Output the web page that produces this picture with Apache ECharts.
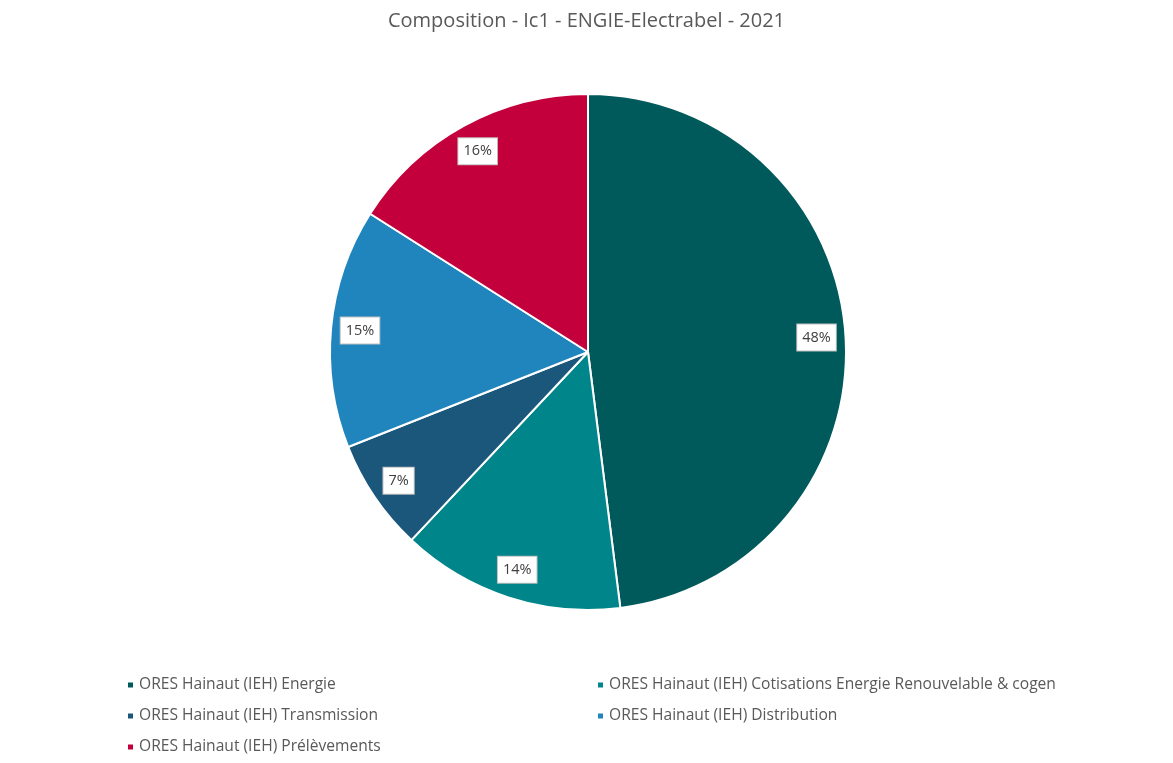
<!DOCTYPE html>
<html>
<head>
<meta charset="utf-8">
<script src="https://cdn.jsdelivr.net/npm/echarts@6/dist/echarts.min.js"></script>
<style>html,body{margin:0;padding:0;background:#fff;}#c{width:1173px;height:763px;}</style>
</head>
<body>
<div id="c"></div>
<script>
const titleText = 'Composition - Ic1 - ENGIE-Electrabel - 2021';
const categories = [
  'ORES Hainaut (IEH) Energie',
  'ORES Hainaut (IEH) Cotisations Energie Renouvelable & cogen',
  'ORES Hainaut (IEH) Transmission',
  'ORES Hainaut (IEH) Distribution',
  'ORES Hainaut (IEH) Prélèvements'
];
const values = [48, 14, 7, 15, 16];
const colors = ['#005A5B', '#00858A', '#1B577B', '#2185BD', '#C3003C'];
const legendLeft = [categories[0], categories[2], categories[4]];
const legendRight = [categories[1], categories[3]];

const chart = echarts.init(document.getElementById('c'));
const font = '"Open Sans", Lato, sans-serif';
const pieData = categories.map((n, i) => ({ name: n, value: values[i] }));
const legendCommon = {
  orient: 'vertical',
  top: 671,
  itemWidth: 7,
  itemHeight: 7,
  itemGap: 13,
  icon: 'rect',
  textStyle: { fontFamily: font, fontSize: 15.6, lineHeight: 18, color: '#595959' },
  selectedMode: false
};
chart.setOption({
  animation: false,
  color: colors,
  title: {
    text: titleText,
    left: 'center',
    top: 6,
    textStyle: { fontFamily: font, fontSize: 20, fontWeight: 'normal', color: '#595959' }
  },
  legend: [
    Object.assign({}, legendCommon, { left: 121, data: legendLeft }),
    Object.assign({}, legendCommon, { left: 591, data: legendRight })
  ],
  series: [
    {
      type: 'pie',
      center: [588, 352],
      radius: [0, 258],
      startAngle: 90,
      clockwise: true,
      silent: true,
      itemStyle: { borderColor: '#ffffff', borderWidth: 2 },
      label: { show: false },
      labelLine: { show: false },
      data: pieData
    },
    {
      type: 'pie',
      center: [588, 352],
      radius: [194, 258],
      startAngle: 90,
      clockwise: true,
      silent: true,
      percentPrecision: 0,
      itemStyle: { color: 'rgba(0,0,0,0)', borderWidth: 0 },
      label: {
        show: true,
        position: 'inside',
        formatter: '{d}%',
        fontFamily: font,
        fontSize: 14.5,
        color: '#404040',
        backgroundColor: '#ffffff',
        borderColor: '#bfbfbf',
        borderWidth: 1,
        padding: [6, 5, 5, 5]
      },
      labelLine: { show: false },
      data: pieData
    }
  ]
});
</script>
</body>
</html>
